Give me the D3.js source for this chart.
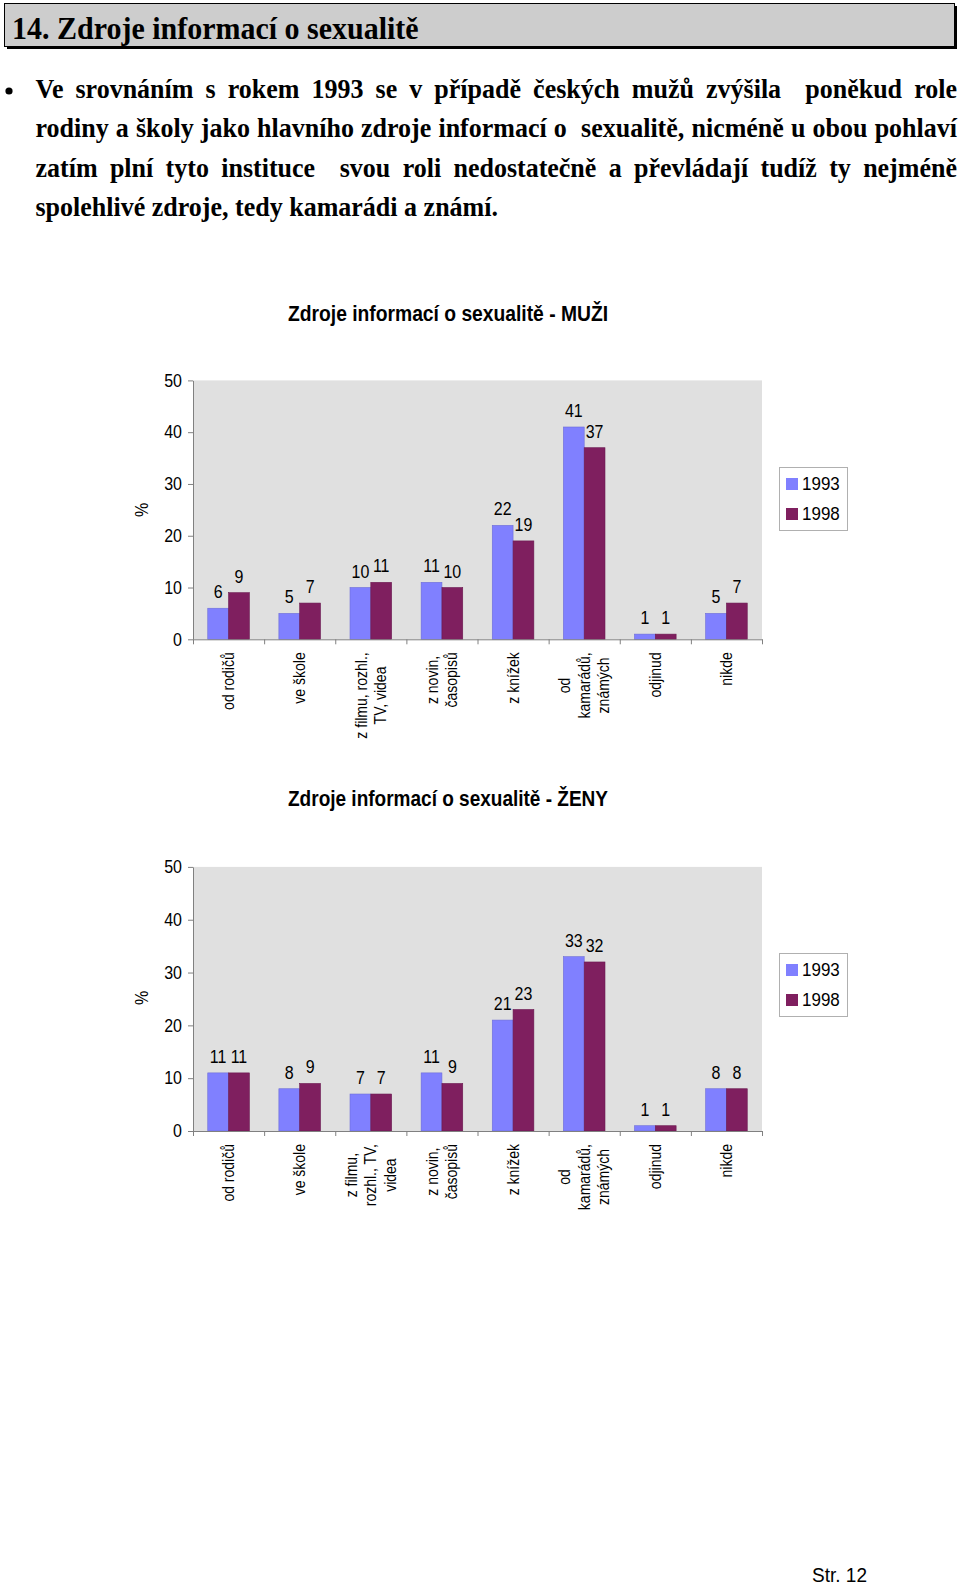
<!DOCTYPE html>
<html><head><meta charset="utf-8">
<script src="https://cdn.jsdelivr.net/npm/d3@7"></script>
<style>
html,body{margin:0;padding:0;background:#fff;}
svg{display:block;}
</style></head>
<body>
<svg id="page" width="960" height="1586"></svg>
<script>
// ---- data ----
const series = ["1993", "1998"];
const categoriesMen = [["od rodičů"], ["ve škole"], ["z filmu, rozhl.,", "TV, videa"], ["z novin,", "časopisů"], ["z knížek"], ["od", "kamarádů,", "známých"], ["odjinud"], ["nikde"]];
const categoriesWomen = [["od rodičů"], ["ve škole"], ["z filmu,", "rozhl., TV,", "videa"], ["z novin,", "časopisů"], ["z knížek"], ["od", "kamarádů,", "známých"], ["odjinud"], ["nikde"]];
const men1993 = [6, 5, 10, 11, 22, 41, 1, 5];
const men1998 = [9, 7, 11, 10, 19, 37, 1, 7];
const women1993 = [11, 8, 7, 11, 21, 33, 1, 8];
const women1998 = [11, 9, 7, 9, 23, 32, 1, 8];
const yTicks = [0, 10, 20, 30, 40, 50];
const pageTitle = "14. Zdroje informací o sexualitě";
const paragraph = [
  "Ve srovnáním s rokem 1993 se v případě českých mužů zvýšila  poněkud role",
  "rodiny a školy jako hlavního zdroje informací o  sexualitě, nicméně u obou pohlaví",
  "zatím plní tyto instituce  svou roli nedostatečně a převládají tudíž ty nejméně",
  "spolehlivé zdroje, tedy kamarádi a známí."
];
const colors = ["#8080ff", "#7f1f5f"];

const svg = d3.select("#page");
const SERIF = "'Liberation Serif','Times New Roman',serif";
const SANS = "'Liberation Sans',Arial,sans-serif";
const SY = 1.12; // slight vertical stretch seen in the reference text

// ---- page heading box ----
svg.append("rect").attr("x", 7).attr("y", 6).attr("width", 950).attr("height", 43).attr("fill", "#000");
svg.append("rect").attr("x", 4.5).attr("y", 3.5).attr("width", 950).attr("height", 43)
  .attr("fill", "#cdcdcd").attr("stroke", "#000").attr("stroke-width", 1);
svg.append("text").attr("transform", "translate(12,38.5) scale(1,1.07)").attr("font-family", SERIF).attr("font-weight", "bold")
  .attr("font-size", 30).attr("fill", "#000").text(pageTitle);

// ---- paragraph (justified) ----
svg.append("circle").attr("cx", 9).attr("cy", 91).attr("r", 3.6).attr("fill", "#000");
const pLeft = 35.5, pRight = 957, pBase0 = 98, pLead = 39.4;
paragraph.forEach((line, li) => {
  const base = pBase0 + li * pLead;
  const tokens = line.split(" ");
  const g = svg.append("g");
  const texts = tokens.map(t => g.append("text").attr("font-family", SERIF)
    .attr("font-weight", "bold").attr("font-size", 26).attr("fill", "#000").text(t));
  const widths = texts.map(t => t.node().getComputedTextLength());
  const total = d3.sum(widths);
  const last = li === paragraph.length - 1;
  const gap = last ? 6.5 : (pRight - pLeft - total) / (tokens.length - 1);
  let x = pLeft;
  texts.forEach((t, i) => { t.attr("transform", `translate(${x},${base}) scale(1,1.05)`); x += widths[i] + gap; });
});

// ---- chart ----
function drawChart(cfg) {
  const left = 193, right = 762;
  const g = svg.append("g");
  const x0 = d3.scaleBand().domain(d3.range(cfg.labels.length)).range([left, right])
    .paddingInner(0.415).paddingOuter(0.2075);
  const x1 = d3.scaleBand().domain(series).range([0, x0.bandwidth()]);
  const y = d3.scaleLinear().domain([0, 50]).range([cfg.bottom, cfg.top]);

  g.append("text").attr("transform", `translate(448,${cfg.titleY}) scale(1,1.12)`).attr("text-anchor", "middle")
    .attr("font-family", SANS).attr("font-weight", "bold").attr("font-size", 19)
    .attr("textLength", 320).attr("lengthAdjust", "spacingAndGlyphs").attr("fill", "#000").text(cfg.title);

  g.append("rect").attr("x", left).attr("y", y(50)).attr("width", right - left)
    .attr("height", y(0) - y(50)).attr("fill", "#e0e0e0");

  // bars
  const data = cfg.values;
  series.forEach((s, si) => {
    g.append("g").selectAll("rect").data(data[si]).join("rect")
      .attr("x", (d, i) => x0(i) + x1(s))
      .attr("y", d => y(d))
      .attr("width", x1.bandwidth())
      .attr("height", d => y(0) - y(d))
      .attr("fill", colors[si])
      .attr("stroke", si === 0 ? "#6c6cd8" : "#6a1850").attr("stroke-width", 0.6);
    g.append("g").selectAll("text").data(data[si]).join("text")
      .attr("transform", (d, i) => `translate(${x0(i) + x1(s) + x1.bandwidth() / 2},${y(d) - 10}) scale(1,${SY})`)
      .attr("text-anchor", "middle").attr("font-family", SANS).attr("font-size", 16).attr("fill", "#000")
      .text(d => d);
  });

  // y axis
  const ya = g.append("g").attr("transform", `translate(${left},0)`)
    .call(d3.axisLeft(y).tickValues(yTicks).tickSize(5).tickSizeOuter(0).tickPadding(6));
  ya.select(".domain").attr("stroke", "#808080");
  ya.selectAll(".tick line").attr("stroke", "#808080");
  ya.selectAll(".tick text").attr("font-family", SANS).attr("font-size", 16).attr("fill", "#000")
    .attr("transform", `scale(1,${SY})`);

  // x axis (ticks between categories)
  const xb = d3.scaleLinear().domain([0, cfg.labels.length]).range([left, right]);
  const xa = g.append("g").attr("transform", `translate(0,${y(0)})`)
    .call(d3.axisBottom(xb).tickValues(d3.range(cfg.labels.length + 1)).tickFormat("").tickSize(5).tickSizeOuter(0));
  xa.select(".domain").attr("stroke", "#808080");
  xa.selectAll(".tick line").attr("stroke", "#808080");

  // category labels, rotated
  const labTop = y(0) + 13, lineGap = 19.5;
  cfg.labels.forEach((lines, i) => {
    const cx = x0(i) + x0.bandwidth() / 2;
    const lg = g.append("g");
    const ts = lines.map(l => lg.append("text").attr("font-family", SANS).attr("font-size", 14)
      .attr("fill", "#000").attr("text-anchor", "middle").attr("dy", "0.35em").text(l));
    const L = d3.max(ts, t => t.node().getComputedTextLength());
    ts.forEach((t, j) => {
      const lx = cx + (j - (lines.length - 1) / 2) * lineGap;
      t.attr("transform", `translate(${lx},${labTop + L / 2}) rotate(-90) scale(1,1.15)`);
    });
  });

  // % label
  g.append("text").attr("transform", `translate(142,${cfg.pctY}) rotate(-90) scale(1,${SY})`)
    .attr("text-anchor", "middle").attr("dy", "0.35em").attr("font-family", SANS).attr("font-size", 16)
    .attr("fill", "#000").text("%");

  // legend
  const lgY = cfg.legendY;
  g.append("rect").attr("x", 779.5).attr("y", lgY + 0.5).attr("width", 68).attr("height", 63)
    .attr("fill", "#fff").attr("stroke", "#b0b0b0");
  series.forEach((s, si) => {
    g.append("rect").attr("x", 786).attr("y", lgY + 11 + si * 30).attr("width", 12).attr("height", 12)
      .attr("fill", colors[si]);
    g.append("text").attr("transform", `translate(802,${lgY + 23 + si * 30}) scale(1,${SY})`).attr("font-family", SANS)
      .attr("font-size", 17).attr("fill", "#000").text(s);
  });
}

drawChart({ title: "Zdroje informací o sexualitě - MUŽI", titleY: 321, top: 380.4, bottom: 639.3,
  labels: categoriesMen, values: [men1993, men1998], legendY: 467, pctY: 510 });
drawChart({ title: "Zdroje informací o sexualitě - ŽENY", titleY: 806, top: 866.9, bottom: 1131,
  labels: categoriesWomen, values: [women1993, women1998], legendY: 953, pctY: 998 });

// footer
svg.append("text").attr("transform", "translate(867,1582) scale(1,1.08)").attr("text-anchor", "end").attr("font-family", SANS)
  .attr("font-size", 19).attr("fill", "#000").text("Str. 12");
</script>
</body></html>
